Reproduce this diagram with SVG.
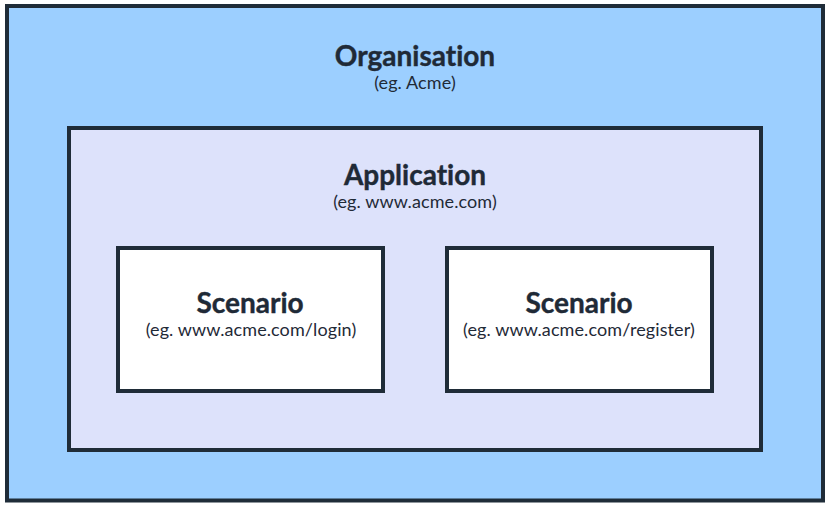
<svg xmlns="http://www.w3.org/2000/svg" width="831" height="508" viewBox="0 0 831 508">
<style>
.box{stroke:#1f2c38;stroke-width:4}
text{font-family:"Lato","Open Sans","Liberation Sans",sans-serif;fill:#1f2a37;text-anchor:middle;font-variant-ligatures:none}
.t{font-size:28px;font-weight:700;stroke:#1f2a37;stroke-width:.4px}
.s{font-size:18px;letter-spacing:.1px}
</style>
<rect width="831" height="508" fill="#fff"/>
<g id="organisation"><rect class="box" x="7" y="6" width="816" height="494.500" fill="#9ccfff"/>
<text class="t" x="415" y="66">Organisation</text><text class="s" x="415" y="89">(eg. Acme)</text></g>
<g id="application"><rect class="box" x="69" y="128" width="692" height="322" fill="#dde2fb"/>
<text class="t" x="415" y="185">Application</text><text class="s" x="415" y="208">(eg. www.acme.com)</text></g>
<g id="scenario-login"><rect class="box" x="118" y="248" width="265" height="143" fill="#fff"/>
<text class="t" x="250" y="313">Scenario</text><text class="s" x="251" y="336">(eg. www.acme.com/login)</text></g>
<g id="scenario-register"><rect class="box" x="447" y="248" width="265" height="143" fill="#fff"/>
<text class="t" x="579" y="313">Scenario</text><text class="s" x="579" y="336">(eg. www.acme.com/register)</text></g>
<g id="connectors"></g>
</svg>
